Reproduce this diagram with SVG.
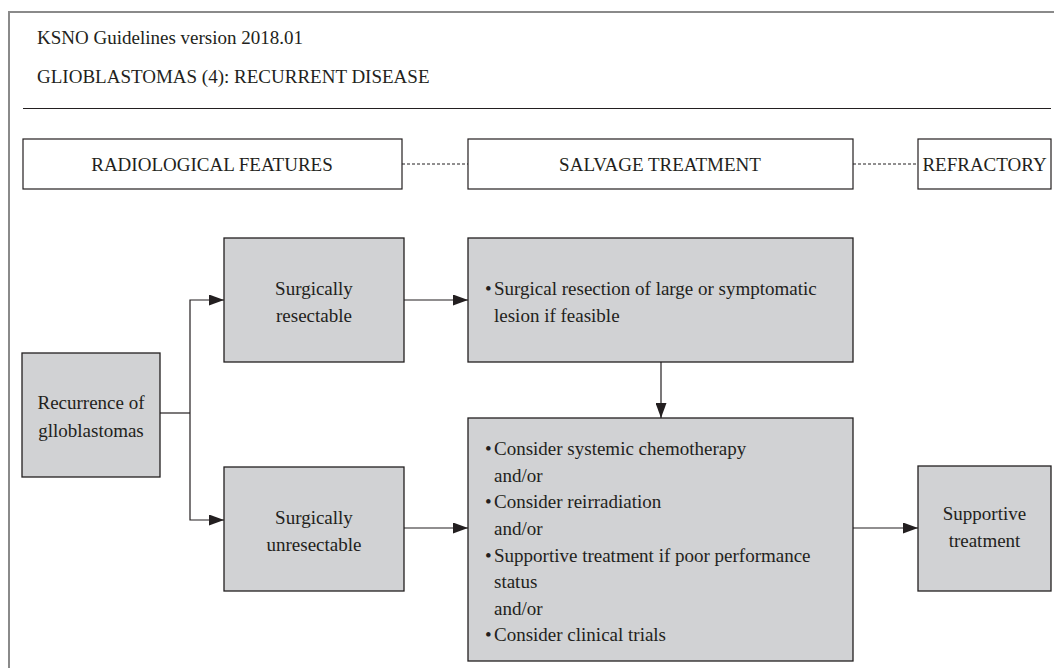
<svg xmlns="http://www.w3.org/2000/svg" width="1054" height="668" viewBox="0 0 1054 668">
<style>
text{font-family:"Liberation Serif","Times New Roman",serif;font-size:19px;fill:#231f20}
.c{text-anchor:middle}
.box{fill:#d1d2d4;stroke:#231f20;stroke-width:1.3}
.hdr{fill:#fff;stroke:#231f20;stroke-width:1.2}
.ln{fill:none;stroke:#231f20;stroke-width:1.2}
.dash{fill:none;stroke:#231f20;stroke-width:1;stroke-dasharray:3 2}
</style>
<defs>
<marker id="ah" markerWidth="15" markerHeight="11" refX="15" refY="5.5" orient="auto" markerUnits="userSpaceOnUse">
<path d="M0,0 L15,5.5 L0,11 Z" fill="#231f20"/>
</marker>
</defs>
<rect x="0" y="0" width="1054" height="668" fill="#fff"/>
<g id="frame">
<path d="M9,680 V12 H1060" fill="none" stroke="#8a8a8a" stroke-width="2"/>
<line x1="23" y1="108.5" x2="1051" y2="108.5" stroke="#231f20" stroke-width="1"/>
<text x="37" y="44">KSNO Guidelines version 2018.01</text>
<text x="37" y="83">GLIOBLASTOMAS (4): RECURRENT DISEASE</text>
</g>
<g id="h-radiological">
<rect class="hdr" x="23" y="139" width="379" height="50"/>
<text class="c" x="212" y="171">RADIOLOGICAL FEATURES</text>
</g>
<g id="h-salvage">
<rect class="hdr" x="468" y="139" width="385" height="50"/>
<text class="c" x="660" y="171">SALVAGE TREATMENT</text>
</g>
<g id="h-refractory">
<rect class="hdr" x="918" y="139" width="133" height="50"/>
<text class="c" x="984.5" y="171">REFRACTORY</text>
</g>
<g id="n-recurrence">
<rect class="box" x="22" y="353" width="138" height="124"/>
<text class="c" x="91" y="409">Recurrence of</text>
<text class="c" x="91" y="437">glloblastomas</text>
</g>
<g id="n-resectable">
<rect class="box" x="224" y="238" width="180" height="124"/>
<text class="c" x="314" y="295">Surgically</text>
<text class="c" x="314" y="322">resectable</text>
</g>
<g id="n-unresectable">
<rect class="box" x="224" y="467" width="180" height="124"/>
<text class="c" x="314" y="524">Surgically</text>
<text class="c" x="314" y="551">unresectable</text>
</g>
<g id="n-resection">
<rect class="box" x="468" y="238" width="385" height="124"/>
<text x="485" y="295">•</text>
<text x="494" y="295">Surgical resection of large or symptomatic</text>
<text x="494" y="322">lesion if feasible</text>
</g>
<g id="n-options">
<rect class="box" x="468" y="418" width="385" height="243"/>
<text x="485" y="455">•</text>
<text x="494" y="455">Consider systemic chemotherapy</text>
<text x="494" y="482">and/or</text>
<text x="485" y="508">•</text>
<text x="494" y="508">Consider reirradiation</text>
<text x="494" y="535">and/or</text>
<text x="485" y="562">•</text>
<text x="494" y="562">Supportive treatment if poor performance</text>
<text x="494" y="588">status</text>
<text x="494" y="615">and/or</text>
<text x="485" y="641">•</text>
<text x="494" y="641">Consider clinical trials</text>
</g>
<g id="n-supportive">
<rect class="box" x="918" y="466" width="133" height="125"/>
<text class="c" x="984.5" y="520">Supportive</text>
<text class="c" x="984.5" y="547">treatment</text>
</g>
<g id="connectors">
<line class="dash" x1="402" y1="164" x2="468" y2="164"/>
<line class="dash" x1="853" y1="164" x2="918" y2="164"/>
<path class="ln" d="M160,413 H190"/>
<path class="ln" d="M190,413 V300 H224" marker-end="url(#ah)"/>
<path class="ln" d="M190,413 V520 H224" marker-end="url(#ah)"/>
<path class="ln" d="M404,300 H468" marker-end="url(#ah)"/>
<path class="ln" d="M404,528 H468" marker-end="url(#ah)"/>
<path class="ln" d="M661,362 V418" marker-end="url(#ah)"/>
<path class="ln" d="M853,528 H918" marker-end="url(#ah)"/>
</g>
</svg>
